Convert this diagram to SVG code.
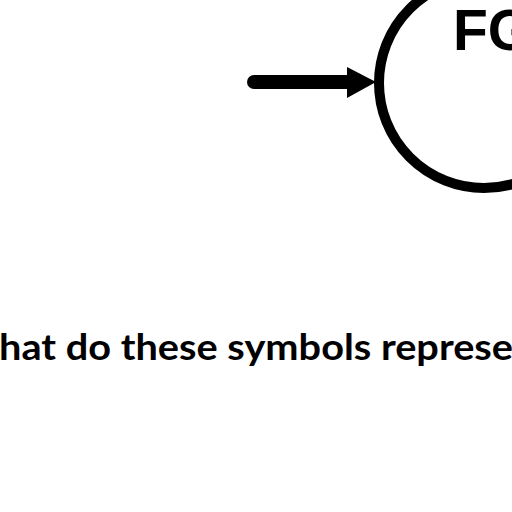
<svg xmlns="http://www.w3.org/2000/svg" width="512" height="512" viewBox="0 0 512 512">
  <style>
    .ring { fill: none; stroke: #000; stroke-width: 10; }
    .label { font-family: "Liberation Sans", Arial, sans-serif; font-weight: bold; fill: #000; }
    .caption { font-family: "Lato", "Open Sans", sans-serif; font-weight: bold; fill: #000; }
    .shaft { stroke: #000; stroke-width: 14; stroke-linecap: round; fill: none; }
    .head { fill: #000; }
  </style>
  <rect width="512" height="512" fill="#fff"/>
  <g id="connectors">
    <line class="shaft" x1="254" y1="82" x2="352" y2="82"/>
    <polygon class="head" points="347,67 376,82 347,98"/>
  </g>
  <g id="node-fg">
    <circle class="ring" cx="484" cy="83" r="105"/>
    <text class="label" x="453" y="50" font-size="57">FG</text>
  </g>
  <g id="caption">
    <text class="caption" x="-1" y="360" font-size="36" textLength="514" lengthAdjust="spacingAndGlyphs">hat do these symbols represe</text>
  </g>
</svg>
